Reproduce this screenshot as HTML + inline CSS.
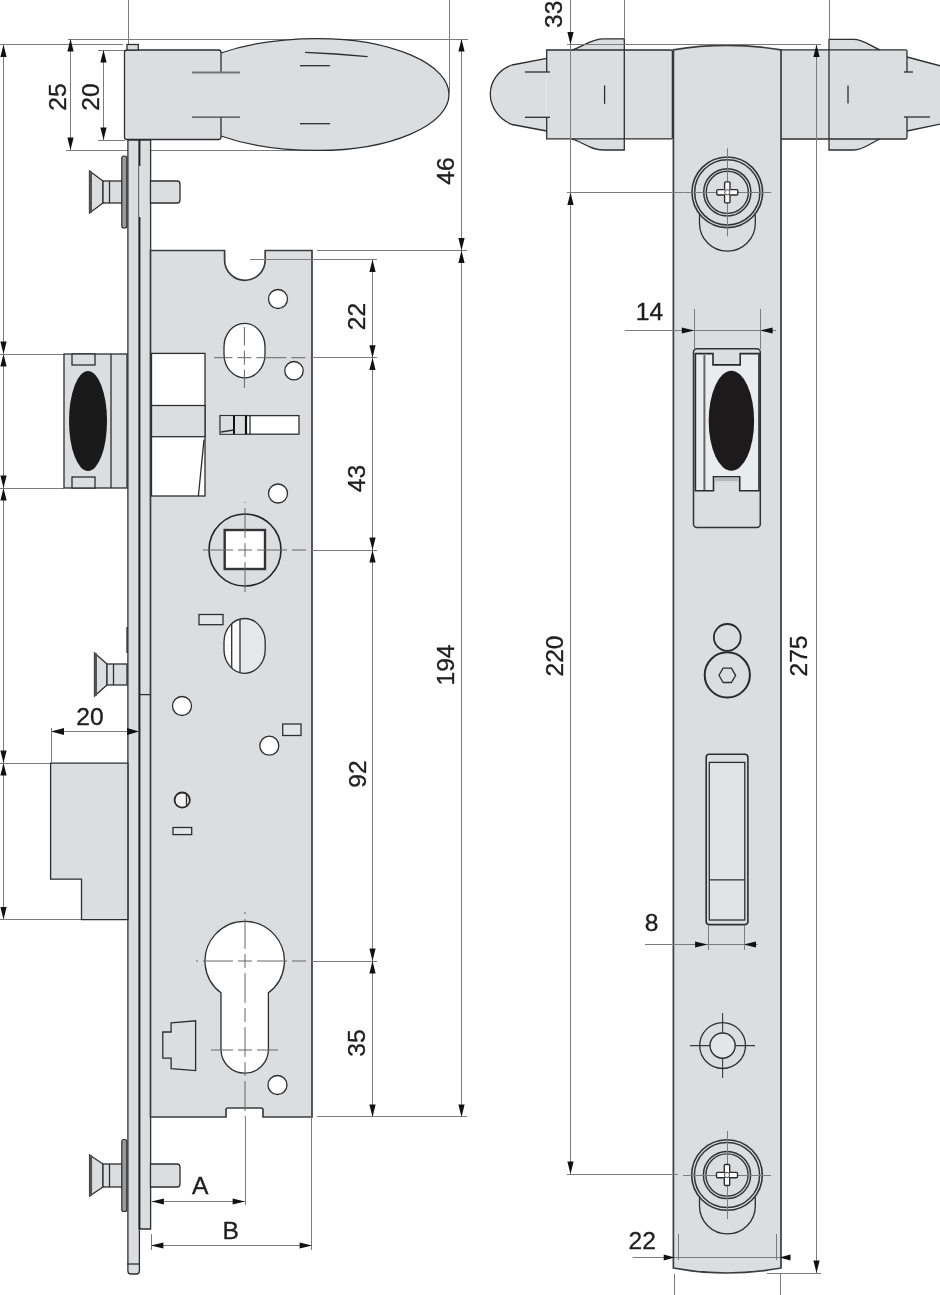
<!DOCTYPE html>
<html><head><meta charset="utf-8"><style>
html,body{margin:0;padding:0;background:#fff;width:940px;height:1295px;overflow:hidden}
svg{display:block;will-change:transform}
.g{fill:#dcdddf;stroke:#2e2e2e;stroke-width:1.3}
.w{fill:#fff;stroke:#2e2e2e;stroke-width:1.3}
.o{fill:none;stroke:#2e2e2e;stroke-width:1.3}
.d{stroke:#7c7c7c;stroke-width:1;fill:none}
.c{stroke:#666;stroke-width:1;fill:none;stroke-dasharray:10 3 3 3}
.k{stroke:#2e2e2e;stroke-width:1.3;fill:none}
.t{font-family:"Liberation Sans",sans-serif;fill:#1e1e1e;stroke:#1e1e1e;stroke-width:0.35;text-anchor:middle;dominant-baseline:central}
</style></head><body>
<svg width="940" height="1295" viewBox="0 0 940 1295">

<line x1="128.5" y1="0.0" x2="128.5" y2="45.0" class="d"/>
<line x1="68.0" y1="39.5" x2="468.0" y2="39.5" class="d"/>
<line x1="0.0" y1="44.5" x2="123.0" y2="44.5" class="d"/>
<line x1="98.0" y1="50.5" x2="125.0" y2="50.5" class="d"/>
<line x1="98.0" y1="140.5" x2="125.0" y2="140.5" class="d"/>
<line x1="66.0" y1="150.5" x2="322.0" y2="150.5" class="d"/>
<line x1="70.5" y1="39.0" x2="70.5" y2="150.0" class="d"/>
<polygon points="70.5,39.0 67.4,51.4 73.6,51.4" fill="#111"/>
<polygon points="70.5,150.0 67.4,137.6 73.6,137.6" fill="#111"/>
<line x1="103.5" y1="50.0" x2="103.5" y2="140.0" class="d"/>
<polygon points="103.5,50.0 100.4,62.4 106.6,62.4" fill="#111"/>
<polygon points="103.5,140.0 100.4,127.6 106.6,127.6" fill="#111"/>
<text x="57.0" y="97.0" transform="rotate(-90 57.0 97.0)" class="t" style="font-size:24.6px">25</text>
<text x="90.0" y="97.0" transform="rotate(-90 90.0 97.0)" class="t" style="font-size:24.6px">20</text>
<line x1="3.5" y1="44.5" x2="3.5" y2="919.5" class="d"/>
<polygon points="3.5,44.5 0.4,56.9 6.6,56.9" fill="#111"/>
<polygon points="3.5,354.0 0.4,341.6 6.6,341.6" fill="#111"/>
<polygon points="3.5,354.0 0.4,366.4 6.6,366.4" fill="#111"/>
<polygon points="3.5,488.0 0.4,475.6 6.6,475.6" fill="#111"/>
<polygon points="3.5,488.0 0.4,500.4 6.6,500.4" fill="#111"/>
<polygon points="3.5,763.0 0.4,750.6 6.6,750.6" fill="#111"/>
<polygon points="3.5,763.0 0.4,775.4 6.6,775.4" fill="#111"/>
<polygon points="3.5,919.5 0.4,907.1 6.6,907.1" fill="#111"/>
<line x1="0.0" y1="354.5" x2="64.0" y2="354.5" class="d"/>
<line x1="0.0" y1="488.5" x2="64.0" y2="488.5" class="d"/>
<line x1="0.0" y1="763.5" x2="50.0" y2="763.5" class="d"/>
<line x1="0.0" y1="919.5" x2="81.0" y2="919.5" class="d"/>
<path d="M221,53 C255,41 290,38.6 318,38.6 A131,55.9 0 0 1 449,94.5 A131,55.9 0 0 1 318,150.4 C290,150.4 255,148 221,136 Z" fill="#dcdddf"/>
<path class="k" d="M221,53 C255,41 290,38.6 318,38.6 A131,55.9 0 0 1 449,94.5 A131,55.9 0 0 1 318,150.4 C290,150.4 255,148 221,136"/>
<rect x="124.5" y="50" width="96.5" height="89.5" rx="2.5" fill="#dcdddf"/>
<path class="k" d="M221,72.4 V52.5 Q221,50 218.5,50 H127 Q124.5,50 124.5,52.5 V137 Q124.5,139.5 127,139.5 H218.5 Q221,139.5 221,137 V117.1"/>
<rect class="g" x="127" y="44.5" width="11.3" height="5.5"/>
<line x1="192" y1="72.4" x2="240" y2="72.4" stroke="#777" stroke-width="2"/>
<line x1="192" y1="117.1" x2="240" y2="117.1" stroke="#444" stroke-width="1.3"/>
<path class="k" d="M305,52.4 Q335,53.5 367.6,56.7"/>
<line x1="300.0" y1="65.7" x2="330.0" y2="65.7" class="k"/>
<line x1="300.0" y1="123.7" x2="330.0" y2="123.7" class="k"/>
<line x1="449.5" y1="0.0" x2="449.5" y2="94.0" class="d"/>
<path class="g" d="M127.9,140 H150.6 V1229 H139.4 V1271 Q139.4,1274 136.4,1274 H130.9 Q127.9,1274 127.9,1271 Z"/>
<line x1="139.4" y1="140" x2="139.4" y2="1229" stroke="#222" stroke-width="2"/>
<line x1="140" y1="166" x2="140" y2="217" stroke="#f4f4f4" stroke-width="1.6"/>
<line x1="127.0" y1="1264.0" x2="139.0" y2="1264.0" class="k"/>
<line x1="139.0" y1="694.6" x2="150.5" y2="694.6" class="k"/>
<path class="g" d="M89.5,171.0 L103.0,181.0 V203.0 L89.5,213.0 Z"/>
<line x1="90.7" y1="172.0" x2="90.7" y2="212.0" stroke="#555" stroke-width="2.6" stroke-linecap="round"/>
<rect class="g" x="103.0" y="181.0" width="19.0" height="22.0"/>
<line x1="109.5" y1="181.0" x2="109.5" y2="203.0" class="k"/>
<rect x="121.8" y="156.0" width="5" height="72.0" rx="2" fill="#9a9a9a" stroke="#2e2e2e" stroke-width="1.2"/>
<path class="g" d="M150.5,181.0 H177 Q180,181.0 180,184.0 V200.0 Q180,203.0 177,203.0 H150.5 Z"/>
<path class="g" d="M94.5,653.0 L107.0,664.0 V685.0 L94.5,696.0 Z"/>
<line x1="95.7" y1="654.0" x2="95.7" y2="695.0" stroke="#555" stroke-width="2.6" stroke-linecap="round"/>
<rect class="g" x="107.0" y="664.0" width="20.0" height="21.0"/>
<line x1="113.5" y1="664.0" x2="113.5" y2="685.0" class="k"/>
<line x1="127.0" y1="627.0" x2="127.0" y2="653.0" class="k"/>
<path class="g" d="M89.6,1155.0 L103.0,1164.0 V1187.0 L89.6,1196.0 Z"/>
<line x1="90.8" y1="1156.0" x2="90.8" y2="1195.0" stroke="#555" stroke-width="2.6" stroke-linecap="round"/>
<rect class="g" x="103.0" y="1164.0" width="19.0" height="23.0"/>
<line x1="109.5" y1="1164.0" x2="109.5" y2="1187.0" class="k"/>
<rect x="121.8" y="1139.5" width="5" height="72.0" rx="2" fill="#9a9a9a" stroke="#2e2e2e" stroke-width="1.2"/>
<path class="g" d="M150.5,1164.0 H177 Q180,1164.0 180,1167.0 V1184.0 Q180,1187.0 177,1187.0 H150.5 Z"/>
<rect class="g" x="64" y="354" width="63" height="134"/>
<line x1="111.0" y1="354.0" x2="111.0" y2="488.0" class="k"/>
<rect class="g" x="72" y="354" width="23" height="11"/>
<rect class="g" x="72" y="477" width="23" height="11"/>
<ellipse cx="88" cy="421" rx="19" ry="50" fill="#1a1a1a"/>
<path class="g" d="M50.6,763.2 H127.9 V919.7 H81.5 V879.2 H50.6 Z"/>
<path class="g" style="stroke:#3c3c3c;stroke-width:1.7" d="M150.5,250.5 H224.6 V260 A20.3,20.3 0 0 0 265.2,260 V250.5 H312 V1117 H263 V1110 Q263,1108 261,1108 H228 Q226,1108 226,1110 V1117 H150.5 Z"/>
<circle class="w" cx="278" cy="299" r="9.5"/>
<rect class="w" x="224" y="323.4" width="41" height="54.4" rx="20.5" ry="23.5"/>
<circle class="w" cx="294" cy="370.7" r="9.2"/>
<circle class="w" cx="278" cy="493.5" r="9.5"/>
<rect class="w" x="151.5" y="353.4" width="53.5" height="142.6"/>
<rect class="g" x="151.5" y="405.5" width="53.5" height="31.2"/>
<line x1="204.0" y1="439.6" x2="198.4" y2="496.0" class="k"/>
<rect class="w" x="220" y="415.6" width="79" height="18.6"/>
<rect x="221" y="416.5" width="12.5" height="17" fill="#dcdddf"/>
<rect x="235" y="416.5" width="10" height="17" fill="#dcdddf"/>
<line x1="234" y1="415.6" x2="234" y2="434.2" stroke="#111" stroke-width="2"/>
<line x1="246" y1="415.6" x2="246" y2="434.2" stroke="#111" stroke-width="2.2"/>
<line x1="250.0" y1="415.6" x2="250.0" y2="434.2" class="k"/>
<line x1="221.0" y1="432.0" x2="233.8" y2="430.0" class="k"/>
<circle cx="245" cy="550" r="36" fill="none" stroke="#222" stroke-width="1.6"/>
<rect x="224.7" y="530" width="40.3" height="39" fill="#fff" stroke="#333" stroke-width="2.4"/>
<rect class="g" style="fill:#e4e5e6" x="199" y="614.5" width="24" height="10.2"/>
<rect x="224" y="618.5" width="41.2" height="54.8" rx="20.6" ry="23.5" fill="#e6e7e8"/>
<clipPath id="ov2"><rect x="224" y="618.5" width="41.2" height="54.8" rx="20.6" ry="23.5"/></clipPath>
<g clip-path="url(#ov2)">
<rect x="222" y="615" width="18" height="62" fill="#fafafa"/>
<line x1="231.7" y1="615.0" x2="231.7" y2="677.0" class="k"/>
<line x1="240.0" y1="615.0" x2="240.0" y2="677.0" class="k"/>
</g>
<rect class="o" x="224" y="618.5" width="41.2" height="54.8" rx="20.6" ry="23.5"/>
<circle class="w" cx="182" cy="706" r="9.5"/>
<circle class="w" cx="269.3" cy="745.7" r="9.5"/>
<rect class="g" style="fill:#e4e5e6" x="282.7" y="724" width="18.3" height="11.5"/>
<circle cx="182.2" cy="800.1" r="7.6" fill="#f2f2f2" stroke="#2a2a2a" stroke-width="1.8"/>
<line x1="186.5" y1="794.5" x2="186.5" y2="805.5" class="k"/>
<rect class="g" style="fill:#e4e5e6" x="173" y="827.5" width="18.7" height="7.1"/>
<path class="w" d="M221,992.85 A39.7,39.7 0 1 1 268.4,992.85 V1049.5 A23.7,23.7 0 0 1 221,1049.5 Z"/>
<path class="g" d="M171.1,1022.8 L195.6,1020.8 V1070.6 L171.1,1068.7 V1058.2 H162.8 V1032 H171.1 Z"/>
<circle class="w" cx="277.5" cy="1085" r="9.5"/>
<line x1="245.0" y1="502.0" x2="245.0" y2="596.0" stroke="#666" stroke-width="1" stroke-dasharray="30 5 14 5" stroke-dashoffset="48.0"/>
<line x1="198.0" y1="550.0" x2="312.0" y2="550.0" stroke="#666" stroke-width="1" stroke-dasharray="30 5 14 5" stroke-dashoffset="49.0"/>
<line x1="244.4" y1="327.0" x2="244.4" y2="388.0" stroke="#666" stroke-width="1" stroke-dasharray="30 5 14 5" stroke-dashoffset="11.3"/>
<line x1="214.0" y1="357.7" x2="312.0" y2="357.7" stroke="#666" stroke-width="1" stroke-dasharray="30 5 14 5" stroke-dashoffset="11.6"/>
<line x1="245.0" y1="912.0" x2="245.0" y2="1117.0" stroke="#666" stroke-width="1" stroke-dasharray="30 5 14 5" stroke-dashoffset="47.0"/>
<line x1="196.0" y1="961.0" x2="312.0" y2="961.0" stroke="#666" stroke-width="1" stroke-dasharray="30 5 14 5" stroke-dashoffset="47.0"/>
<line x1="211.0" y1="1050.0" x2="278.0" y2="1050.0" stroke="#666" stroke-width="1" stroke-dasharray="30 5 14 5" stroke-dashoffset="8.0"/>
<line x1="250.0" y1="259.5" x2="377.0" y2="259.5" class="d"/>
<line x1="312.0" y1="357.5" x2="377.0" y2="357.5" class="d"/>
<line x1="312.0" y1="550.5" x2="377.0" y2="550.5" class="d"/>
<line x1="312.0" y1="961.5" x2="377.0" y2="961.5" class="d"/>
<line x1="317.0" y1="1116.5" x2="467.0" y2="1116.5" class="d"/>
<line x1="317.0" y1="250.5" x2="467.0" y2="250.5" class="d"/>
<line x1="372.5" y1="259.5" x2="372.5" y2="1116.9" class="d"/>
<polygon points="372.5,259.5 369.4,271.9 375.6,271.9" fill="#111"/>
<polygon points="372.5,357.7 369.4,345.3 375.6,345.3" fill="#111"/>
<polygon points="372.5,357.7 369.4,370.1 375.6,370.1" fill="#111"/>
<polygon points="372.5,550.0 369.4,537.6 375.6,537.6" fill="#111"/>
<polygon points="372.5,550.0 369.4,562.4 375.6,562.4" fill="#111"/>
<polygon points="372.5,961.0 369.4,948.6 375.6,948.6" fill="#111"/>
<polygon points="372.5,961.0 369.4,973.4 375.6,973.4" fill="#111"/>
<polygon points="372.5,1116.9 369.4,1104.5 375.6,1104.5" fill="#111"/>
<line x1="461.5" y1="39.0" x2="461.5" y2="1116.9" class="d"/>
<polygon points="461.5,39.0 458.4,51.4 464.6,51.4" fill="#111"/>
<polygon points="461.5,250.5 458.4,238.1 464.6,238.1" fill="#111"/>
<polygon points="461.5,250.5 458.4,262.9 464.6,262.9" fill="#111"/>
<polygon points="461.5,1116.9 458.4,1104.5 464.6,1104.5" fill="#111"/>
<text x="356.0" y="316.5" transform="rotate(-90 356.0 316.5)" class="t" style="font-size:24.6px">22</text>
<text x="356.0" y="478.5" transform="rotate(-90 356.0 478.5)" class="t" style="font-size:24.6px">43</text>
<text x="357.0" y="774.0" transform="rotate(-90 357.0 774.0)" class="t" style="font-size:24.6px">92</text>
<text x="356.0" y="1043.0" transform="rotate(-90 356.0 1043.0)" class="t" style="font-size:24.6px">35</text>
<text x="445.0" y="665.0" transform="rotate(-90 445.0 665.0)" class="t" style="font-size:24.6px">194</text>
<text x="445.0" y="171.0" transform="rotate(-90 445.0 171.0)" class="t" style="font-size:24.6px">46</text>
<line x1="51.0" y1="731.5" x2="139.0" y2="731.5" class="d"/>
<polygon points="51.0,731.5 64.0,728.0 64.0,735.0" fill="#111"/>
<polygon points="139.0,731.5 127.0,728.0 127.0,735.0" fill="#111"/>
<line x1="51.5" y1="728.0" x2="51.5" y2="763.0" class="d"/>
<text x="90.0" y="716.4" class="t" style="font-size:24.6px">20</text>
<line x1="245.5" y1="1117.0" x2="245.5" y2="1205.0" class="d"/>
<line x1="151.5" y1="1201.5" x2="245.0" y2="1201.5" class="d"/>
<polygon points="151.5,1201.5 163.9,1198.4 163.9,1204.6" fill="#111"/>
<polygon points="245.0,1201.5 232.6,1198.4 232.6,1204.6" fill="#111"/>
<line x1="311.5" y1="1117.0" x2="311.5" y2="1250.0" class="d"/>
<line x1="151.5" y1="1234.0" x2="151.5" y2="1250.0" class="d"/>
<line x1="151.0" y1="1245.5" x2="312.0" y2="1245.5" class="d"/>
<polygon points="151.0,1245.5 163.4,1242.4 163.4,1248.6" fill="#111"/>
<polygon points="312.0,1245.5 299.6,1242.4 299.6,1248.6" fill="#111"/>
<text x="200.3" y="1185.5" class="t" style="font-size:24.6px">A</text>
<text x="230.7" y="1230.2" class="t" style="font-size:24.6px">B</text>
<path d="M546.7,58.3 L512,65 C498,70 490.3,82 490.3,94 C490.3,106 498,119 512,124.5 L546.7,131 Z" fill="#dcdddf"/>
<path class="k" d="M546.7,58.3 L512,65 C498,70 490.3,82 490.3,94 C490.3,106 498,119 512,124.5 L546.7,131"/>
<rect x="546.7" y="50" width="125.7" height="88.9" fill="#dcdddf"/>
<path d="M572,50 C585,46 590,38.8 604,38.8 H624.3 V150 H604 C590,150 585,143 572,138.9 Z" fill="#dcdddf"/>
<path class="k" d="M546.7,72 V50 H671 Q672.4,50 672.4,51.5 V137.4 Q672.4,138.9 671,138.9 H546.7 V117.3"/>
<path class="k" d="M572,50 C585,46 590,38.8 604,38.8 H624.3 V150 H604 C590,150 585,143 572,138.9"/>
<line x1="525.0" y1="72.0" x2="550.0" y2="72.0" class="k"/>
<line x1="525.0" y1="117.3" x2="550.0" y2="117.3" class="k"/>
<line x1="604.6" y1="85.4" x2="604.6" y2="103.8" class="k"/>
<line x1="624.5" y1="0.0" x2="624.5" y2="39.0" class="d"/>
<path d="M907,57 L940,66 V124 L907,131 Z" fill="#dcdddf"/>
<path class="k" d="M907,57 L941,66 M941,124 L907,131"/>
<rect x="781" y="49.8" width="126" height="89.2" fill="#dcdddf"/>
<path d="M829,39.4 H853.6 C864,39.4 870,46 880,49.8 V139 C870,143 864,150 853.6,150 H829 Z" fill="#dcdddf"/>
<path class="k" d="M907,72 V51.3 Q907,49.8 905.5,49.8 H781 M781,139 H905.5 Q907,139 907,137.5 V117"/>
<path class="k" d="M880,49.8 C870,46 864,39.4 853.6,39.4 H829 V150 H853.6 C864,150 870,143 880,139"/>
<line x1="904.0" y1="72.0" x2="913.0" y2="72.0" class="k"/>
<line x1="904.0" y1="117.0" x2="930.0" y2="117.0" class="k"/>
<line x1="848.0" y1="85.5" x2="848.0" y2="103.4" class="k"/>
<line x1="829.5" y1="0.0" x2="829.5" y2="39.4" class="d"/>
<path class="g" style="stroke:#3c3c3c;stroke-width:1.7" d="M673.4,49.8 Q727,41 781,49.8 V1268 Q727,1278 673.4,1268 Z"/>
<path class="o" d="M699.5,214.3 V223.3 A27.8,27.8 0 0 0 755.3,223.3 V214.3"/>
<circle cx="727.3" cy="192.3" r="35.3" fill="#dcdddf" stroke="#333" stroke-width="1.6"/>
<circle cx="727.3" cy="192.3" r="32.6" fill="none" stroke="#333" stroke-width="1.5"/>
<circle cx="727.3" cy="192.3" r="23.6" fill="none" stroke="#333" stroke-width="1.5"/>
<circle cx="727.3" cy="192.3" r="21.1" fill="none" stroke="#333" stroke-width="1.4"/>
<line x1="727.5" y1="148.3" x2="727.5" y2="236.3" class="d"/>
<line x1="683.3" y1="192.5" x2="771.3" y2="192.5" class="d"/>
<path d="M724.5999999999999,189.60000000000002 V182.8 Q724.5999999999999,181.8 725.5999999999999,181.8 H729.0 Q730.0,181.8 730.0,182.8 V189.60000000000002 H736.8 Q737.8,189.60000000000002 737.8,190.60000000000002 V194.0 Q737.8,195.0 736.8,195.0 H730.0 V201.8 Q730.0,202.8 729.0,202.8 H725.5999999999999 Q724.5999999999999,202.8 724.5999999999999,201.8 V195.0 H717.8 Q716.8,195.0 716.8,194.0 V190.60000000000002 Q716.8,189.60000000000002 717.8,189.60000000000002 Z" fill="#fff" stroke="#2a2a2a" stroke-width="1.35"/>
<circle cx="727.3" cy="192.3" r="2.6" fill="#fff" stroke="#444" stroke-width="1"/>
<path class="o" d="M699.5,1197.0 V1206.0 A27.8,27.8 0 0 0 755.3,1206.0 V1197.0"/>
<circle cx="727.0" cy="1175.0" r="35.3" fill="#dcdddf" stroke="#333" stroke-width="1.6"/>
<circle cx="727.0" cy="1175.0" r="32.6" fill="none" stroke="#333" stroke-width="1.5"/>
<circle cx="727.0" cy="1175.0" r="23.6" fill="none" stroke="#333" stroke-width="1.5"/>
<circle cx="727.0" cy="1175.0" r="21.1" fill="none" stroke="#333" stroke-width="1.4"/>
<line x1="727.5" y1="1131.0" x2="727.5" y2="1219.0" class="d"/>
<line x1="683.0" y1="1175.5" x2="771.0" y2="1175.5" class="d"/>
<path d="M724.3,1172.3 V1165.5 Q724.3,1164.5 725.3,1164.5 H728.7 Q729.7,1164.5 729.7,1165.5 V1172.3 H736.5 Q737.5,1172.3 737.5,1173.3 V1176.7 Q737.5,1177.7 736.5,1177.7 H729.7 V1184.5 Q729.7,1185.5 728.7,1185.5 H725.3 Q724.3,1185.5 724.3,1184.5 V1177.7 H717.5 Q716.5,1177.7 716.5,1176.7 V1173.3 Q716.5,1172.3 717.5,1172.3 Z" fill="#fff" stroke="#2a2a2a" stroke-width="1.35"/>
<circle cx="727.0" cy="1175.0" r="2.6" fill="#fff" stroke="#444" stroke-width="1"/>
<rect x="693.5" y="348.8" width="66.8" height="178.6" rx="3.5" fill="#dcdddf" stroke="#333" stroke-width="1.5"/>
<path d="M695.4,353.6 H713 V364.9 H740.2 V353.6 H759 V490.8 H739.7 V476.8 H713.5 V490.8 H695.4 Z" fill="#eaebec" stroke="#2a2a2a" stroke-width="1.6"/>
<rect x="714.3" y="477.6" width="24.6" height="3.6" fill="#b8b9ba"/>
<line x1="704.4" y1="355" x2="704.4" y2="490" stroke="#666" stroke-width="2"/>
<ellipse cx="731.4" cy="420.8" rx="22.7" ry="50" fill="#1c1a1a"/>
<circle cx="727.3" cy="637.4" r="13.4" fill="none" stroke="#2a2a2a" stroke-width="1.8"/>
<circle cx="727.3" cy="674.9" r="22.6" fill="none" stroke="#2a2a2a" stroke-width="2"/>
<polygon class="o" points="735.6,675.3 731.4,682.5 723.1,682.5 719.0,675.3 723.1,668.1 731.4,668.1"/>
<rect x="706.2" y="754.2" width="41.7" height="170.4" rx="3" fill="#dcdddf" stroke="#2e2e2e" stroke-width="1.6"/>
<rect x="709.3" y="762.4" width="35.5" height="157.6" fill="#e2e3e4" stroke="#2e2e2e" stroke-width="1.3"/>
<line x1="709.3" y1="879.8" x2="744.8" y2="879.8" class="k"/>
<line x1="722.6" y1="1013" x2="722.6" y2="1078" stroke="#3a3a3a" stroke-width="1.1"/>
<line x1="690" y1="1045.6" x2="755" y2="1045.6" stroke="#3a3a3a" stroke-width="1.1"/>
<circle class="o" cx="722.6" cy="1045.6" r="22.9"/>
<circle cx="722.6" cy="1045.6" r="12.6" fill="#e4e5e6" stroke="#2e2e2e" stroke-width="1.4"/>
<line x1="570.5" y1="0.0" x2="570.5" y2="1174.0" class="d"/>
<polygon points="570.5,44.5 567.4,32.1 573.6,32.1" fill="#111"/>
<polygon points="570.5,192.5 567.4,204.9 573.6,204.9" fill="#111"/>
<polygon points="570.5,1174.0 567.4,1161.6 573.6,1161.6" fill="#111"/>
<line x1="567.0" y1="44.5" x2="821.0" y2="44.5" class="d"/>
<line x1="567.0" y1="192.5" x2="683.0" y2="192.5" class="d"/>
<line x1="567.0" y1="1174.5" x2="678.0" y2="1174.5" class="d"/>
<line x1="767.0" y1="1273.5" x2="821.0" y2="1273.5" class="d"/>
<line x1="816.5" y1="44.5" x2="816.5" y2="1273.0" class="d"/>
<polygon points="816.5,44.5 813.4,56.9 819.6,56.9" fill="#111"/>
<polygon points="816.5,1273.0 813.4,1260.6 819.6,1260.6" fill="#111"/>
<text x="553.6" y="14.2" transform="rotate(-90 553.6 14.2)" class="t" style="font-size:24.6px">33</text>
<text x="554.0" y="656.0" transform="rotate(-90 554.0 656.0)" class="t" style="font-size:24.6px">220</text>
<text x="798.2" y="656.0" transform="rotate(-90 798.2 656.0)" class="t" style="font-size:24.6px">275</text>
<line x1="624.6" y1="330.5" x2="776.0" y2="330.5" class="d"/>
<polygon points="694.2,330.5 681.8,327.4 681.8,333.6" fill="#111"/>
<polygon points="760.2,330.5 772.6,327.4 772.6,333.6" fill="#111"/>
<line x1="694.5" y1="309.0" x2="694.5" y2="349.0" class="d"/>
<line x1="760.5" y1="309.0" x2="760.5" y2="349.0" class="d"/>
<text x="649.5" y="311.6" class="t" style="font-size:24.6px">14</text>
<line x1="645.0" y1="944.5" x2="757.5" y2="944.5" class="d"/>
<polygon points="707.5,944.5 695.1,941.4 695.1,947.6" fill="#111"/>
<polygon points="743.6,944.5 756.0,941.4 756.0,947.6" fill="#111"/>
<line x1="708.5" y1="925.0" x2="708.5" y2="950.0" class="d"/>
<line x1="744.5" y1="925.0" x2="744.5" y2="950.0" class="d"/>
<text x="651.5" y="922.0" class="t" style="font-size:24.6px">8</text>
<line x1="632.6" y1="1257.5" x2="790.5" y2="1257.5" class="d"/>
<polygon points="674.7,1257.5 663.7,1254.4 663.7,1260.6" fill="#111"/>
<polygon points="779.5,1257.5 790.5,1254.4 790.5,1260.6" fill="#111"/>
<line x1="678.5" y1="1234.0" x2="678.5" y2="1260.0" class="d"/>
<line x1="776.5" y1="1234.0" x2="776.5" y2="1260.0" class="d"/>
<line x1="674.5" y1="1274.0" x2="674.5" y2="1295.0" class="d"/>
<line x1="780.5" y1="1274.0" x2="780.5" y2="1295.0" class="d"/>
<text x="642.2" y="1240.5" class="t" style="font-size:24.6px">22</text>
</svg></body></html>
